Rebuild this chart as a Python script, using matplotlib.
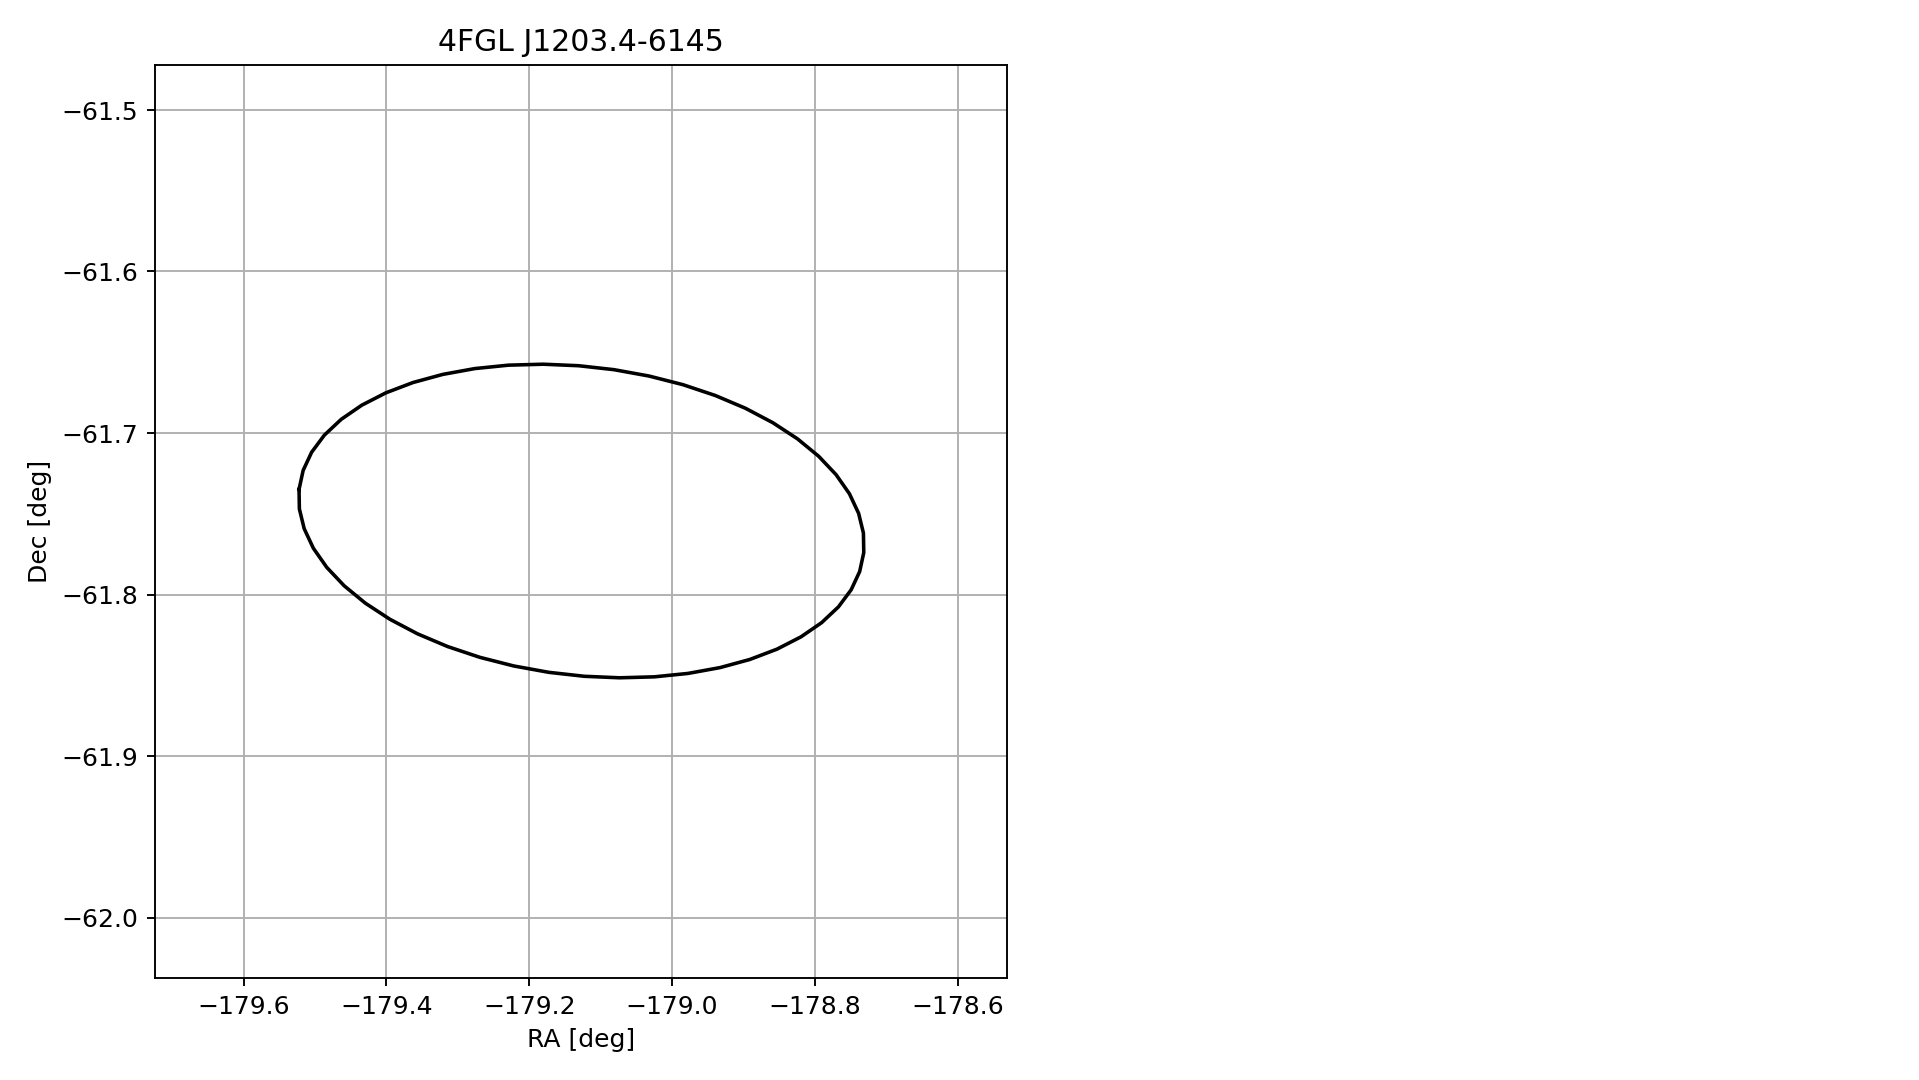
import matplotlib
matplotlib.use("Agg")
import matplotlib.pyplot as plt
import numpy as np

plt.rcParams["font.size"] = 10.5

# source position and 95% error ellipse (deg)
name = "4FGL J1203.4-6145"
ra0 = -179.127
dec0 = -61.7545
semi_major = 0.1881
semi_minor = 0.0956
pos_angle = -5.96   # deg, measured from the RA axis
n_points = 51

t = np.linspace(np.pi, 3 * np.pi, n_points)
th = np.deg2rad(pos_angle)
u = semi_major * np.cos(t) * np.cos(th) - semi_minor * np.sin(t) * np.sin(th)
v = semi_major * np.cos(t) * np.sin(th) + semi_minor * np.sin(t) * np.cos(th)
ra = ra0 + u / np.cos(np.deg2rad(dec0))
dec = dec0 + v

fig = plt.figure(figsize=(1919.2 / 171, 1080.2 / 171), dpi=171)
ax = fig.add_axes([0.08056, 0.09472, 0.4442, 0.8451])
ax.plot(ra, dec, color="black", lw=1.5)
ax.set_xlim(-179.7245, -178.531)
ax.set_ylim(-62.0372, -61.4721)
ax.set_xticks([-179.6, -179.4, -179.2, -179.0, -178.8, -178.6])
ax.set_yticks([-62.0, -61.9, -61.8, -61.7, -61.6, -61.5])
ax.grid(True)
ax.set_xlabel("RA [deg]")
ax.set_ylabel("Dec [deg]")
ax.set_title(name)

fig.savefig("out.png", dpi=171)
